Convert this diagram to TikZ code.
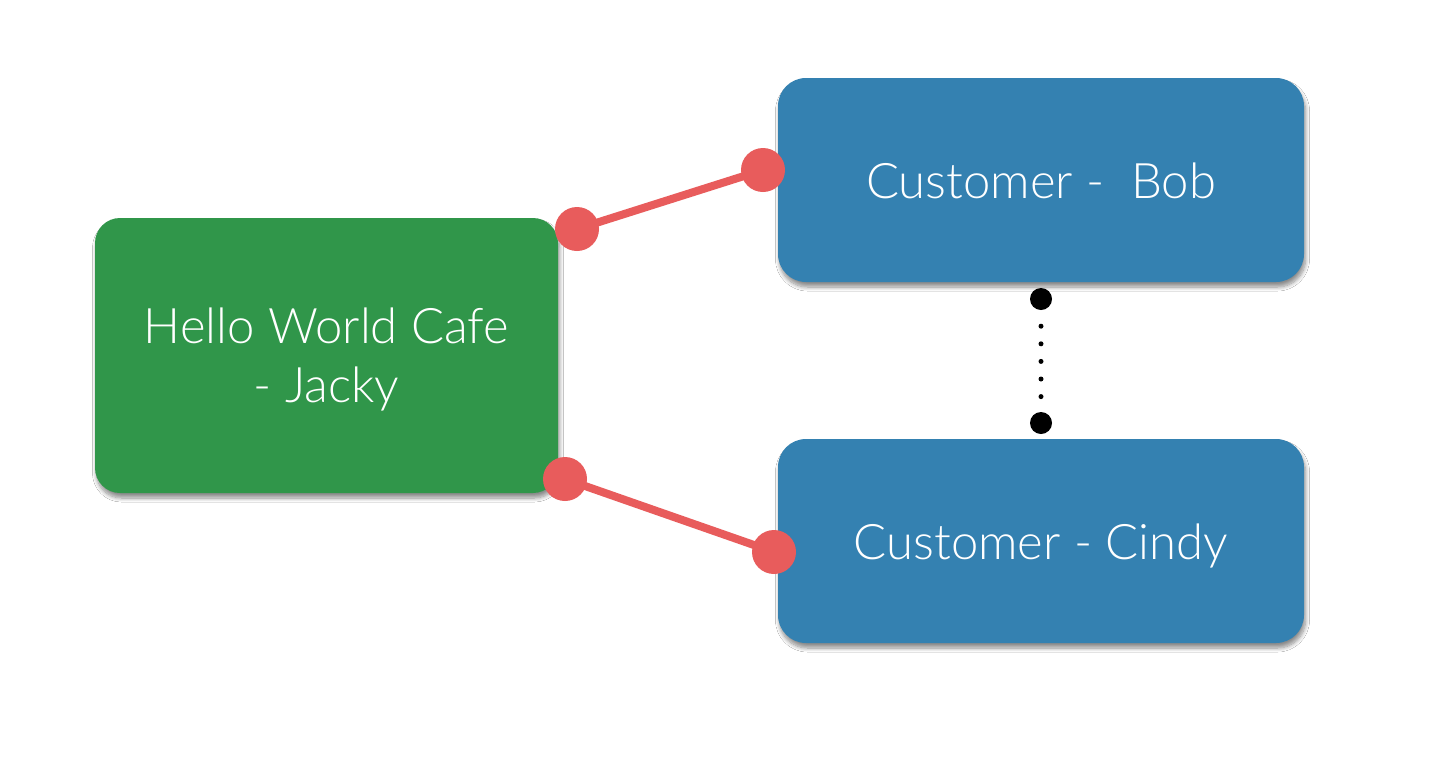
\documentclass[tikz,border=0pt]{standalone}
\usepackage{fontspec}
\setmainfont{Lato}[UprightFont=* Light]
\usetikzlibrary{shadows.blur}

\definecolor{cafegreen}{HTML}{30964A}
\definecolor{custblue}{HTML}{3481B1}
\definecolor{linkred}{HTML}{E85C5C}

\tikzset{
  card/.style={rectangle, rounded corners=28pt, text=white,
    font=\fontsize{49}{59}\selectfont, inner sep=0pt,
    blur shadow={shadow xshift=1.5pt, shadow yshift=-5pt,
      shadow blur radius=4pt, shadow blur steps=8, shadow opacity=45}},
  cafecard/.style={card, fill=cafegreen, minimum width=463pt, minimum height=275pt,
    rounded corners=25pt, align=center, text height=93pt, text depth=0pt},
  custcard/.style={card, fill=custblue, minimum width=526pt, minimum height=204pt,
    text height=36pt, text depth=0pt},
  reddot/.style={circle, fill=linkred, minimum size=44pt, inner sep=0pt},
  redlink/.style={draw=linkred, line width=8pt, line cap=round},
  blackdot/.style={circle, fill=black, minimum size=22pt, inner sep=0pt},
  dotlink/.style={draw=black, line width=5pt, line cap=round,
    dash pattern=on 0pt off 17.6pt}
}

\begin{document}
\begin{tikzpicture}[x=1pt, y=-1pt]
  \useasboundingbox[fill=white] (0,0) rectangle (1438,764);

  % the three cards
  \node[cafecard] (cafe)  at (326.5,355.5) {Hello World Cafe\\- Jacky};
  \node[custcard] (bob)   at (1041,180) {Customer -\ \ Bob};
  \node[custcard] (cindy) at (1041,541) {Customer - Cindy};

  % red links from the cafe to each customer
  \node[reddot] (cb) at (577,229) {};
  \node[reddot] (bc) at (763,170) {};
  \node[reddot] (cc) at (565,479) {};
  \node[reddot] (ic) at (774,552) {};
  \draw[redlink] (cb.center) -- (bc.center);
  \draw[redlink] (cc.center) -- (ic.center);

  % dotted link between the two customers
  \node[blackdot] (b1) at (1041,299) {};
  \node[blackdot] (b2) at (1041,423) {};
  \draw[dotlink, shorten <=16pt, shorten >=14.5pt] (b1) -- (b2);
\end{tikzpicture}
\end{document}
